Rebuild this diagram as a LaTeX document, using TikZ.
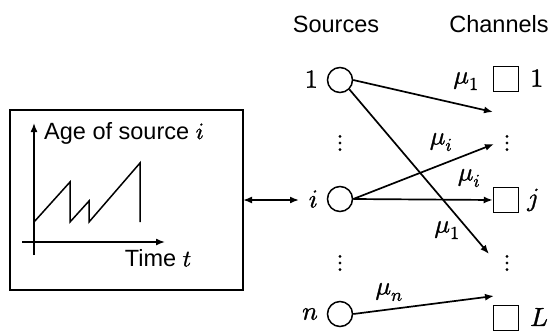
\documentclass[tikz,border=0pt]{standalone}
\usepackage{fontspec}
\usepackage{unicode-math}
\setmainfont{Liberation Sans}
\setmathfont{Latin Modern Math}[FakeBold=1.2]
\usetikzlibrary{arrows.meta}
\tikzset{
  line/.style={line width=1.7pt},
  arr/.style={line width=1.7pt,-{Latex[length=9pt,width=7pt]}},
  src/.style={circle,draw,line width=1.5pt,minimum size=25pt,inner sep=0pt},
  chan/.style={rectangle,draw,line width=1.5pt,minimum size=25pt,inner sep=0pt},
  lbl/.style={inner sep=0pt,font=\fontsize{26}{30}\selectfont},
  txt/.style={inner sep=0pt,font=\fontsize{23.5}{28}\selectfont},
  vdots/.style={inner sep=0pt,font=\fontsize{24}{28}\selectfont}
}
\begin{document}
\begin{tikzpicture}[x=1pt,y=-1pt]
\useasboundingbox (0,0) rectangle (556,335);
% left box
\node[draw,line width=1.7pt,minimum width=233pt,minimum height=180pt,inner sep=0pt] (box) at (126.5,200) {};
\coordinate (yb) at (34,255);
\coordinate (yt) at (34,123);
\coordinate (xl) at (22,242);
\coordinate (xr) at (165,242);
\draw[arr,line width=1.5pt] (yb) -- (yt);
\draw[arr,line width=1.5pt] (xl) -- (xr);
\draw[line,line width=1.5pt] (34,222) -- (70,182) -- (70,222) -- (89,201) -- (89,222) -- (140,163) -- (140,222);
\node[txt,anchor=west] (age) at (44,133) {Age of source $i$};
\node[txt] (time) at (158,258) {Time $t$};
% headers
\node[txt] (srch) at (336,24) {Sources};
\node[txt] (chh) at (499,24) {Channels};
% sources
\node[src] (s1) at (340,80) {};
\node[src] (si) at (340,199) {};
\node[src] (sn) at (340,314) {};
\node[lbl,anchor=east] (l1) at (318,79) {$1$};
\node[lbl,anchor=east] (li) at (318,199) {$i$};
\node[lbl,anchor=east] (ln) at (318,314) {$n$};
\node[vdots] (sd1) at (340,143) {$\vdots$};
\node[vdots] (sd2) at (340,263) {$\vdots$};
% channels
\node[chan] (c1) at (506,79) {};
\node[chan] (cj) at (506,200) {};
\node[chan] (cL) at (506,318) {};
\node[lbl,anchor=west] (r1) at (530,78) {$1$};
\node[lbl,anchor=west] (rj) at (527,200) {$j$};
\node[lbl,anchor=west] (rL) at (530,317) {$L$};
\node[vdots] (cd1) at (507,143) {$\vdots$};
\node[vdots] (cd2) at (507,263) {$\vdots$};
% arrow endpoints
\coordinate (e1) at (493,112);
\coordinate (e2) at (489,254);
\coordinate (e3) at (494,144);
\coordinate (e5) at (494,296);
\coordinate (bi) at (243,200);
\coordinate (ti) at (299,200);
% connectors
\draw[arr] (s1.east) -- (e1);
\draw[arr] (s1.south east) -- (e2);
\draw[arr] (si.east) -- (e3);
\draw[arr] (si.east) -- (cj.west);
\draw[arr] (sn.east) -- (e5);
\draw[line,{Latex[length=9pt,width=7pt]}-{Latex[length=9pt,width=7pt]}] (bi) -- (ti);
% labels
\node[lbl] (m1a) at (466,81) {$\mu_1$};
\node[lbl] (mi1) at (441,142) {$\mu_i$};
\node[lbl] (mi2) at (469,178) {$\mu_i$};
\node[lbl] (m1b) at (447,230) {$\mu_1$};
\node[lbl] (mn) at (389,292) {$\mu_n$};
\end{tikzpicture}
\end{document}
